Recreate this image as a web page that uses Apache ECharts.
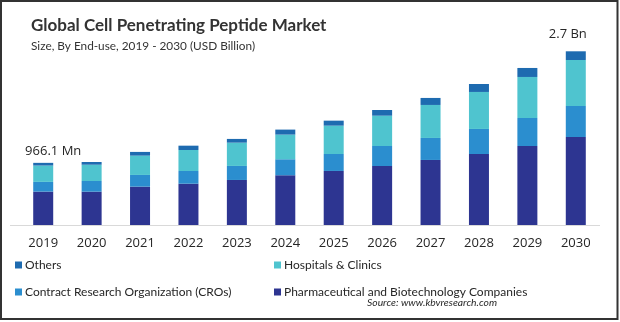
<!DOCTYPE html>
<html>
<head>
<meta charset="utf-8">
<script src="https://cdn.jsdelivr.net/npm/echarts@6/dist/echarts.min.js"></script>
<style>
  html, body { margin: 0; padding: 0; background: #fff; }
  #chart { width: 620px; height: 322px; }
</style>
</head>
<body>
<div id="chart"></div>
<script>
// Market size by end-use, USD billion
const years = ['2019', '2020', '2021', '2022', '2023', '2024', '2025', '2026', '2027', '2028', '2029', '2030'];
const pharma = [0.519, 0.518, 0.596, 0.642, 0.700, 0.773, 0.840, 0.917, 1.011, 1.104, 1.228, 1.368];
const cros = [0.151, 0.166, 0.182, 0.197, 0.218, 0.249, 0.264, 0.311, 0.342, 0.389, 0.435, 0.482];
const hospitals = [0.254, 0.253, 0.300, 0.327, 0.362, 0.383, 0.440, 0.471, 0.513, 0.575, 0.638, 0.715];
const others = [0.0421, 0.042, 0.058, 0.067, 0.058, 0.078, 0.078, 0.089, 0.109, 0.124, 0.140, 0.135];
// Total labels shown above the first and last bars
const totalLabels = { 0: '966.1 Mn', 11: '2.7 Bn' };
const labelOffsets = { 0: [10, 0], 11: [-8, -6] };

const FONT = "'Open Sans', 'Liberation Sans', sans-serif";
const NARROW = "Lato, 'Open Sans', sans-serif";
const TEXT = '#262626';

const chart = echarts.init(document.getElementById('chart'), null, { renderer: 'canvas' });

const othersData = others.map((v, i) => {
  if (totalLabels[i] === undefined) return v;
  return {
    value: v,
    label: {
      show: true,
      position: 'top',
      offset: labelOffsets[i],
      formatter: totalLabels[i],
      fontSize: 13,
      color: TEXT,
      fontFamily: FONT
    }
  };
});

function barSeries(name, data, color) {
  return {
    name: name,
    type: 'bar',
    stack: 'total',
    barWidth: 20,
    itemStyle: { color: color },
    data: data
  };
}

const legendText = { fontSize: 12, color: TEXT, fontFamily: NARROW, padding: [0, 0, 0, -2] };

chart.setOption({
  backgroundColor: '#fff',
  animation: false,
  title: {
    text: 'Global Cell Penetrating Peptide Market',
    subtext: 'Size, By End-use, 2019 - 2030 (USD Billion)',
    left: 31,
    top: 17,
    padding: 0,
    itemGap: 6,
    textStyle: { fontSize: 17, fontWeight: 'bold', color: '#333', fontFamily: NARROW },
    subtextStyle: { fontSize: 11.8, color: '#333', fontFamily: NARROW }
  },
  legend: [
    {
      orient: 'vertical', left: 10, top: 254, itemGap: 15,
      itemWidth: 7, itemHeight: 7, icon: 'rect',
      textStyle: legendText,
      data: ['Others', 'Contract Research Organization (CROs)']
    },
    {
      orient: 'vertical', left: 269, top: 254, itemGap: 15,
      itemWidth: 7, itemHeight: 7, icon: 'rect',
      textStyle: legendText,
      data: ['Hospitals & Clinics', 'Pharmaceutical and Biotechnology Companies']
    }
  ],
  grid: { left: 19, right: 20, top: 32, bottom: 97, containLabel: false },
  xAxis: {
    type: 'category',
    data: years,
    axisLine: { show: false },
    axisTick: { show: false },
    axisLabel: { fontSize: 13, color: TEXT, margin: 12, fontFamily: FONT }
  },
  yAxis: {
    type: 'value',
    min: 0,
    max: 3,
    show: false,
    splitLine: { show: false }
  },
  series: [
    barSeries('Pharmaceutical and Biotechnology Companies', pharma, '#2d3591'),
    barSeries('Contract Research Organization (CROs)', cros, '#2b8ecf'),
    barSeries('Hospitals & Clinics', hospitals, '#4fc4cf'),
    barSeries('Others', othersData, '#1e6bb0')
  ],
  graphic: [
    {
      // baseline rule under the bars, slightly wider than the plot
      type: 'line',
      shape: { x1: 10, y1: 225.5, x2: 600, y2: 225.5 },
      style: { stroke: '#d9d9d9', lineWidth: 1 },
      silent: true
    },
    {
      type: 'rect',
      shape: { x: 1, y: 1, width: 616.5, height: 318 },
      style: { fill: 'none', stroke: '#333', lineWidth: 2 },
      silent: true
    },
    {
      type: 'text',
      right: 123,
      top: 298,
      style: {
        text: 'Source: www.kbvresearch.com',
        fill: TEXT,
        font: "italic 10.3px Lato, 'Open Sans', sans-serif"
      }
    }
  ]
});
</script>
</body>
</html>
